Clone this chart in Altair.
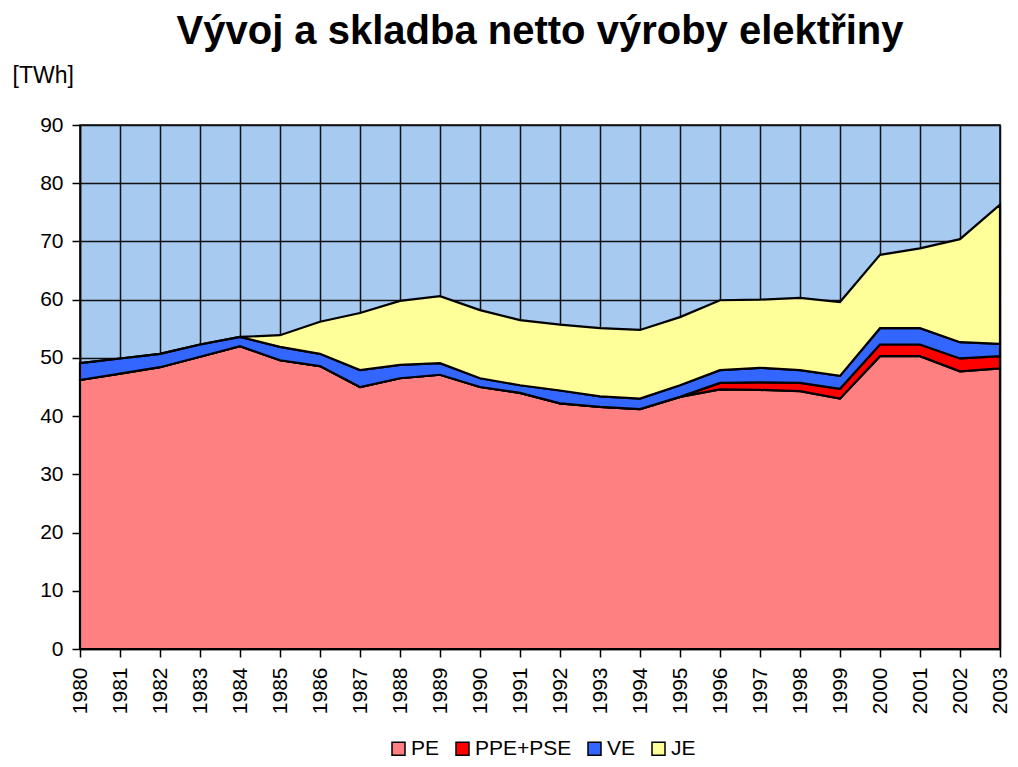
import altair as alt
import pandas as pd

years = list(range(1980, 2004))
pe = [46.2, 47.3, 48.4, 50.2, 52.0, 49.6, 48.6, 45.0, 46.5, 47.1, 45.0, 44.0,
      42.2, 41.6, 41.2, 43.3, 44.6, 44.5, 44.3, 43.0, 50.3, 50.3, 47.7, 48.2]
ppe_pse = [0, 0, 0, 0, 0, 0, 0, 0, 0, 0, 0, 0,
           0, 0, 0, 0, 1.1, 1.3, 1.4, 1.7, 2.0, 2.0, 2.2, 2.1]
ve = [2.9, 2.6, 2.3, 2.1, 1.6, 2.3, 2.1, 2.9, 2.3, 2.0, 1.5, 1.3,
      2.2, 1.8, 1.8, 2.0, 2.2, 2.5, 2.2, 2.2, 2.8, 2.8, 2.8, 2.1]
je = [0, 0, 0, 0, 0, 2.0, 5.5, 9.8, 11.0, 11.5, 11.7, 11.2,
      11.3, 11.7, 11.8, 11.7, 12.0, 11.7, 12.4, 12.7, 12.6, 13.7, 17.7, 23.9]

series = ["PE", "PPE+PSE", "VE", "JE"]
colors = ["#FF8080", "#FF0000", "#3366FF", "#FFFF99"]
y_ticks = list(range(0, 100, 10))

rows = []
for i, yr in enumerate(years):
    for k, (name, vals) in enumerate(zip(series, [pe, ppe_pse, ve, je])):
        rows.append({"rok": yr, "zdroj": name, "hodnota": vals[i], "poradi": k})
df = pd.DataFrame(rows)

FONT = "Liberation Sans"

chart = alt.Chart(df).mark_area(stroke="black", strokeWidth=2.2, strokeJoin="miter").encode(
    x=alt.X("rok:Q",
            scale=alt.Scale(domain=[1980, 2003], nice=False, zero=False),
            axis=alt.Axis(values=years, format="d", labelAngle=270, title=None,
                          grid=True, gridColor="#111111", gridWidth=1.5, gridOpacity=1,
                          domainColor="black", domainWidth=1.5,
                          tickColor="black", tickSize=8, tickWidth=1.5,
                          labelFontSize=21, labelColor="black", labelFont=FONT,
                          labelPadding=10, labelBaseline="middle", labelAlign="right")),
    y=alt.Y("hodnota:Q", stack="zero",
            scale=alt.Scale(domain=[0, 90], nice=False),
            axis=alt.Axis(values=y_ticks, title="[TWh]", titleAngle=0,
                          titleX=-68, titleY=-43, titleAlign="left",
                          titleBaseline="alphabetic", titleFontSize=23,
                          titleFontWeight="normal", titleFont=FONT, titleColor="black",
                          grid=True, gridColor="#111111", gridWidth=1.5, gridOpacity=1,
                          domainColor="black", domainWidth=1.5,
                          tickColor="black", tickSize=8, tickWidth=1.5,
                          labelFontSize=21, labelColor="black", labelFont=FONT,
                          labelPadding=9)),
    color=alt.Color("zdroj:N",
                    scale=alt.Scale(domain=series, range=colors),
                    legend=alt.Legend(title=None, orient="none", direction="horizontal",
                                      legendX=308, legendY=613,
                                      symbolType="square", symbolSize=169,
                                      symbolStrokeColor="black", symbolStrokeWidth=1.5,
                                      labelFontSize=21, labelFont=FONT, labelColor="black",
                                      columnPadding=12, symbolOffset=0, labelOffset=2)),
    order=alt.Order("poradi:Q", sort="ascending"),
).properties(
    width=920,
    height=524,
    background="white",
    title=alt.TitleParams("Vývoj a skladba netto výroby elektřiny", fontSize=40,
                          font=FONT, fontWeight="bold", color="black",
                          anchor="middle", offset=21, dy=41, frame="group",
                          baseline="alphabetic"),
    autosize="none",
    padding={"left": 72, "top": 117, "right": 10, "bottom": 110},
).configure_view(
    fill="#A6CAF0", stroke="black", strokeWidth=1.5
)

chart.save("out.html", embed_options={"renderer": "svg", "actions": False})
